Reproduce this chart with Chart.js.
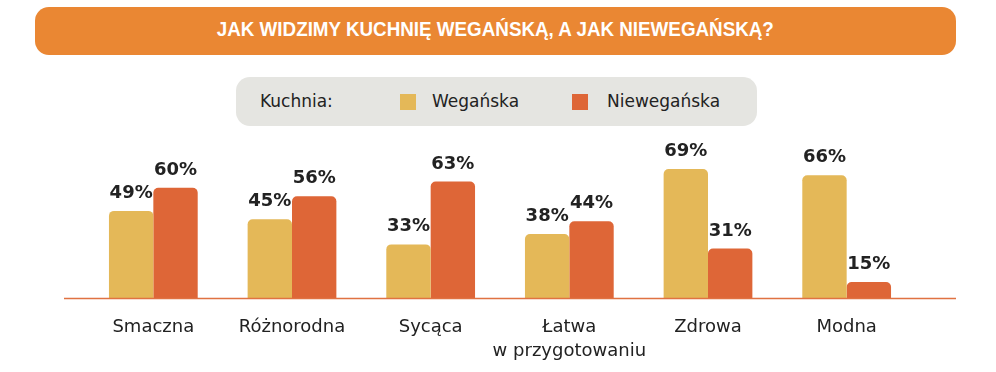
<!DOCTYPE html>
<html lang="pl">
<head>
<meta charset="utf-8">
<script src="https://cdn.jsdelivr.net/npm/chart.js@4"></script>
<style>
  html, body { margin: 0; padding: 0; background: #fff; }
  body { width: 996px; height: 372px; position: relative; overflow: hidden; font-family: "DejaVu Sans", sans-serif; }
  #chart { position: absolute; left: 0; top: 0; }
  .banner {
    position: absolute; left: 35px; top: 7px; width: 921px; height: 48px;
    background: #EA8733; border-radius: 14px; color: #fff;
    line-height: 48px; text-align: center;
  }
  .banner span {
    display: inline-block; transform: scaleX(0.94);
    font: bold 20px "Liberation Sans", sans-serif;
  }
  .legend {
    position: absolute; left: 236px; top: 77px; width: 521px; height: 49px;
    background: #E5E5E1; border-radius: 14px; color: #222; font-size: 17px;
  }
  .legend span { position: absolute; top: 14px; line-height: 20px; }
  .legend i { position: absolute; top: 17px; width: 16px; height: 16px; }
</style>
</head>
<body>
<canvas id="chart" width="996" height="372"></canvas>
<div class="banner"><span>JAK WIDZIMY KUCHNIĘ WEGAŃSKĄ, A JAK NIEWEGAŃSKĄ?</span></div>
<div class="legend">
  <span style="left:24px">Kuchnia:</span>
  <i style="left:164px;background:#E4B858"></i>
  <span style="left:196px">Wegańska</span>
  <i style="left:336px;background:#DE6637"></i>
  <span style="left:371px">Niewegańska</span>
</div>
<script>
// dane z wykresu
const categories = ["Smaczna", "Różnorodna", "Sycąca", ["Łatwa", "w przygotowaniu"], "Zdrowa", "Modna"];
const veganValues = [49, 45, 33, 38, 69, 66];
const nonVeganValues = [60, 56, 63, 44, 31, 15];
const seriesNames = ["Wegańska", "Niewegańska"];

const colors = { vegan: "#E4B858", nonVegan: "#DE6637", axis: "#E07242", text: "#222" };

// etykiety procentowe nad słupkami
const valueLabels = {
  id: "valueLabels",
  afterDatasetsDraw(chart) {
    const ctx = chart.ctx;
    ctx.save();
    ctx.fillStyle = colors.text;
    ctx.font = "bold 18px 'DejaVu Sans', sans-serif";
    ctx.textAlign = "center";
    ctx.textBaseline = "alphabetic";
    chart.data.datasets.forEach((ds, i) => {
      chart.getDatasetMeta(i).data.forEach((bar, j) => {
        ctx.fillText(ds.data[j] + "%", bar.x, bar.y - 13);
      });
    });
    ctx.restore();
  }
};

// linia bazowa szersza niż obszar wykresu
const baseLine = {
  id: "baseLine",
  afterDatasetsDraw(chart) {
    const { ctx, chartArea } = chart;
    ctx.save();
    ctx.strokeStyle = colors.axis;
    ctx.lineWidth = 1.5;
    ctx.beginPath();
    ctx.moveTo(chartArea.left - 20, chartArea.bottom + 0.5);
    ctx.lineTo(chartArea.right + 40, chartArea.bottom + 0.5);
    ctx.stroke();
    ctx.restore();
  }
};

new Chart(document.getElementById("chart"), {
  type: "bar",
  data: {
    labels: categories,
    datasets: [
      { label: seriesNames[0], data: veganValues, backgroundColor: colors.vegan },
      { label: seriesNames[1], data: nonVeganValues, backgroundColor: colors.nonVegan }
    ]
  },
  options: {
    responsive: false,
    animation: false,
    events: [],
    layout: { padding: { top: 146, left: 84, right: 80, bottom: 0 } },
    datasets: {
      bar: { categoryPercentage: 0.64, barPercentage: 1.0, borderRadius: 5, borderSkipped: "bottom" }
    },
    plugins: { legend: { display: false }, tooltip: { enabled: false }, title: { display: false } },
    scales: {
      x: {
        grid: { display: false },
        border: { display: false },
        ticks: {
          color: colors.text,
          padding: 9,
          maxRotation: 0,
          autoSkip: false,
          font: { family: "'DejaVu Sans', sans-serif", size: 18, lineHeight: 1.33 }
        },
        afterFit(scale) { scale.height = 74; }
      },
      y: { display: false, min: 7.4, max: 80 }
    }
  },
  plugins: [valueLabels, baseLine]
});
</script>
</body>
</html>
